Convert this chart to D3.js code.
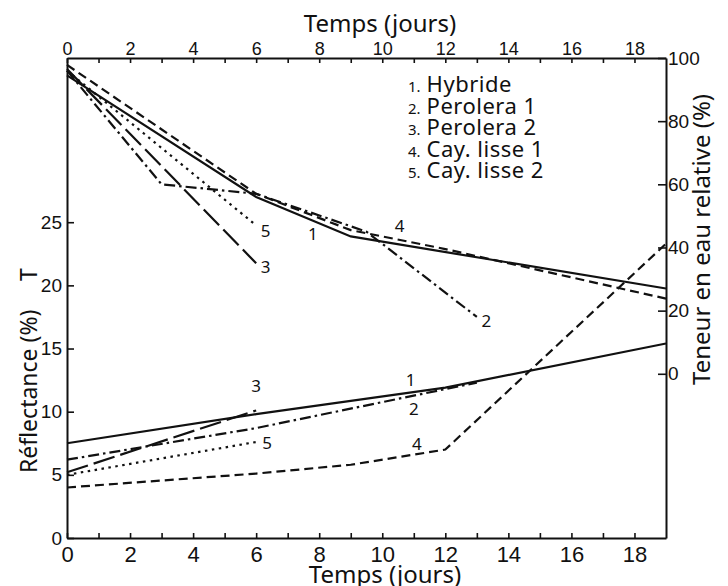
<!DOCTYPE html>
<html>
<head>
<meta charset="utf-8">
<script src="https://cdn.jsdelivr.net/npm/d3@7"></script>
<style>
  body { margin: 0; background: #fff; }
  svg { display: block; font-family: "Noto Sans", "DejaVu Sans", sans-serif; }
  .axis path, .axis line { stroke: #111; }
  .axis text { fill: #111; }
</style>
</head>
<body>
<svg id="chart" width="728" height="586"></svg>
<script>
// series: 1 Hybride, 2 Perolera 1, 3 Perolera 2, 4 Cay. lisse 1, 5 Cay. lisse 2
const seriesNames = ['Hybride', 'Perolera 1', 'Perolera 2', 'Cay. lisse 1', 'Cay. lisse 2'];

// water content (right axis, %)
const waterDays = [[0, 6, 9, 19], [0, 3, 6, 9.5, 13], [0, 6], [0, 6, 9, 12, 19], [0, 6]];
const waterValues = [[94.5, 56, 43.5, 27], [96, 60, 57, 45, 18], [96.5, 35], [97.8, 57, 45.5, 39.5, 23.8], [96, 47]];

// reflectance (left axis, %)
const reflDays = [[0, 6, 12, 19], [0, 6, 13], [0, 6], [0, 6, 9, 12, 19], [0, 6]];
const reflValues = [[7.5, 9.8, 11.9, 15.4], [6.2, 8.7, 12.3], [5.2, 10.1], [4.0, 5.1, 5.8, 7.0, 23.3], [5.0, 7.6]];

// number labels next to the curves: [series index, day, value]
const waterLabels = [[4, 6.3, 44.8], [0, 7.8, 43.8], [2, 6.3, 33.3], [3, 10.55, 46.3], [1, 13.3, 16.2]];
const reflLabels = [[2, 6.0, 11.9], [4, 6.35, 7.4], [0, 10.9, 12.4], [1, 11.0, 10.1], [3, 11.1, 7.3]];

const dayTicks = d3.range(0, 19);
const leftTicks = [0, 5, 10, 15, 20, 25];
const rightTicks = [0, 20, 40, 60, 80, 100];

const dashes = [null, '11,4,2.5,4', '22,6', '9,5', '2.5,4.5'];

const svg = d3.select('#chart');
const margin = { left: 67, right: 666, top: 58, bottom: 538 };

const x = d3.scaleLinear().domain([0, 19]).range([margin.left, margin.right]);
const yL = d3.scaleLinear().domain([0, 38]).range([margin.bottom, margin.top]);
const yR = d3.scaleLinear().domain([-52, 100]).range([margin.bottom, margin.top]);

const evenFmt = (d) => (d % 2 === 0 ? d : '');

// axes
svg.append('g').attr('class', 'axis')
  .attr('transform', `translate(0,${margin.top})`)
  .call(d3.axisTop(x).tickValues(dayTicks).tickFormat(evenFmt).tickSize(-5).tickSizeOuter(0).tickPadding(3))
  .call((g) => g.selectAll('text').attr('font-size', 18));

svg.append('g').attr('class', 'axis')
  .attr('transform', `translate(0,${margin.bottom})`)
  .call(d3.axisBottom(x).tickValues(dayTicks).tickFormat(evenFmt).tickSize(-5).tickSizeOuter(0).tickPadding(8))
  .call((g) => g.selectAll('text').attr('font-size', 22));

svg.append('g').attr('class', 'axis')
  .attr('transform', `translate(${margin.left},0)`)
  .call(d3.axisLeft(yL).tickValues(leftTicks).tickSize(-7).tickSizeOuter(0).tickPadding(5))
  .call((g) => g.selectAll('text').attr('font-size', 19));

svg.append('g').attr('class', 'axis')
  .attr('transform', `translate(${margin.right},0)`)
  .call(d3.axisRight(yR).tickValues(rightTicks).tickSize(-8).tickSizeOuter(0).tickPadding(2))
  .call((g) => g.selectAll('text').attr('font-size', 19));

svg.selectAll('.axis path').attr('stroke-width', 2);
svg.selectAll('.axis line').attr('stroke-width', 1.6);

// curves
const lineR = d3.line().x((d) => x(d[0])).y((d) => yR(d[1]));
const lineL = d3.line().x((d) => x(d[0])).y((d) => yL(d[1]));

const waterData = waterDays.map((ds, i) => ds.map((d, j) => [d, waterValues[i][j]]));
const reflData = reflDays.map((ds, i) => ds.map((d, j) => [d, reflValues[i][j]]));

svg.append('g').selectAll('path').data(waterData).join('path')
  .attr('d', lineR)
  .attr('fill', 'none').attr('stroke', '#111').attr('stroke-width', 2.2)
  .attr('stroke-dasharray', (_d, i) => dashes[i]);

svg.append('g').selectAll('path').data(reflData).join('path')
  .attr('d', lineL)
  .attr('fill', 'none').attr('stroke', '#111').attr('stroke-width', 2.2)
  .attr('stroke-dasharray', (_d, i) => dashes[i]);

// curve numbers
svg.append('g').selectAll('text').data(waterLabels).join('text')
  .attr('x', (d) => x(d[1])).attr('y', (d) => yR(d[2]))
  .attr('text-anchor', 'middle').attr('dominant-baseline', 'middle')
  .attr('font-size', 17).attr('fill', '#111')
  .text((d) => d[0] + 1);

svg.append('g').selectAll('text').data(reflLabels).join('text')
  .attr('x', (d) => x(d[1])).attr('y', (d) => yL(d[2]))
  .attr('text-anchor', 'middle').attr('dominant-baseline', 'middle')
  .attr('font-size', 17).attr('fill', '#111')
  .text((d) => d[0] + 1);

// legend
const legend = svg.append('g').attr('transform', 'translate(408,92)');
seriesNames.forEach((name, i) => {
  const t = legend.append('text').attr('y', i * 21.5).attr('fill', '#111');
  t.append('tspan').attr('font-size', 15).text(`${i + 1}.`);
  t.append('tspan').attr('font-size', 22).attr('dx', 6).attr('letter-spacing', 0.5).text(name);
});

// titles
svg.append('text').attr('x', 380).attr('y', 32).attr('text-anchor', 'middle')
  .attr('font-size', 24).attr('fill', '#111').text('Temps (jours)');
svg.append('text').attr('x', 385).attr('y', 583).attr('text-anchor', 'middle')
  .attr('font-size', 24).attr('fill', '#111').text('Temps (jours)');
svg.append('text').attr('transform', 'translate(37,473) rotate(-90)')
  .attr('font-size', 23).attr('fill', '#111').text('Réflectance (%)');
svg.append('text').attr('transform', 'translate(37,281) rotate(-90)')
  .attr('font-size', 23).attr('fill', '#111').text('T');
svg.append('text').attr('transform', 'translate(710,385) rotate(-90)')
  .attr('font-size', 24).attr('fill', '#111').text('Teneur en eau relative (%)');
</script>
</body>
</html>
